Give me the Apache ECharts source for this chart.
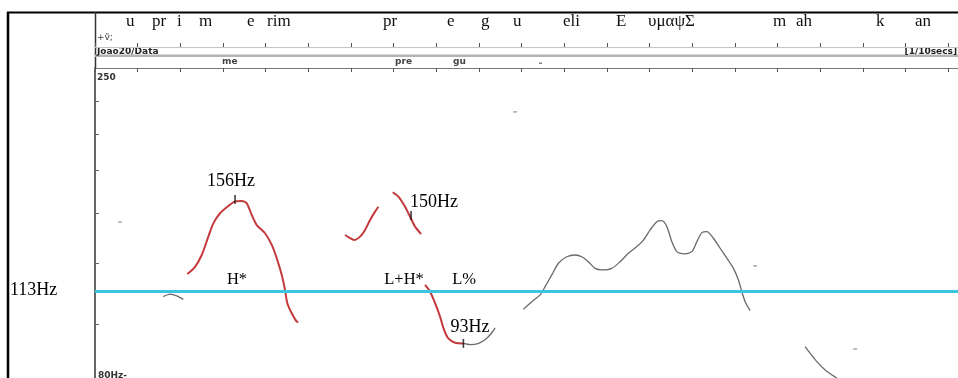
<!DOCTYPE html>
<html><head><meta charset="utf-8">
<script src="https://cdn.jsdelivr.net/npm/echarts@6/dist/echarts.min.js"></script>
<style>html,body{margin:0;padding:0;background:#fff}#c{width:958px;height:378px}</style>
</head><body><div id="c"></div>
<script>
// Time axis in 1/10 s, frequency axis in Hz (log)
const timeMax = 20.23;
const hzMin = 82.36, hzMax = 254.2;
const hzTicks = [100, 125, 150, 175, 200, 225];
const refHz = 113;

// Red (accented) pitch segments
const redRise1 = [[2.164,120.2],[2.345,123.4],[2.502,128.8],[2.657,137.7],[2.774,144.5],[2.931,149.9],[3.125,153.9],[3.283,156.5],[3.44,156.8],[3.557,155.4],[3.674,149.0],[3.791,143.6],[3.986,139.4],[4.143,133.6],[4.26,127.3],[4.378,119.8],[4.455,113.4],[4.509,108.1],[4.612,104.2],[4.729,101.1],[4.767,101.0]];
const redRise2 = [[5.862,138.5],[5.979,136.9],[6.073,136.0],[6.213,137.7],[6.331,141.1],[6.448,146.3],[6.565,150.8],[6.643,153.5]];
const redFall1 = [[6.98,161.8],[7.111,159.2],[7.268,153.5],[7.386,148.0],[7.503,142.8],[7.644,139.0]];
const redFall2 = [[7.737,115.5],[7.855,112.7],[7.972,108.1],[8.089,102.9],[8.183,98.1],[8.284,95.1],[8.441,93.6],[8.636,93.4]];

// Grey (unaccented) pitch segments
const greyA = [[1.601,110.7],[1.759,111.7],[1.916,111.0],[2.07,109.6]];
const greyB = [[8.636,93.4],[8.793,93.0],[8.957,93.2],[9.097,94.2],[9.215,95.6],[9.332,97.7],[9.379,98.8]];
const greyC = [[10.042,105.7],[10.239,108.7],[10.434,111.4],[10.551,114.8],[10.708,119.8],[10.863,125.0],[11.06,128.0],[11.254,128.8],[11.411,128.0],[11.566,125.7],[11.723,122.7],[11.881,122.0],[12.115,122.7],[12.31,125.7],[12.504,129.6],[12.701,132.8],[12.856,136.0],[13.013,141.1],[13.17,145.4],[13.287,145.9],[13.405,142.8],[13.522,135.2],[13.639,130.4],[13.794,129.3],[13.991,130.4],[14.108,135.2],[14.225,139.7],[14.343,140.2],[14.497,136.9],[14.654,132.0],[14.811,127.3],[14.966,122.7],[15.083,117.6],[15.163,112.7],[15.24,108.7],[15.358,105.2]];
const greyD = [[16.647,92.3],[16.764,90.1],[16.921,87.4],[17.116,84.8],[17.311,83.0],[17.515,81.2]];
const strayPoints = [[0.586,145.2],[9.848,216.7],[15.475,123.8],[17.819,91.5]];

// Measured points and annotations
const measureMarks = [[3.283,157.6],[7.409,148.7],[8.636,93.4]];
const annoTexts = ['156Hz','150Hz','93Hz','H*','L+H*','L%'];
const annoAt = [[3.189,168.6],[7.948,156.2],[8.793,99.1],[3.329,117.6],[7.245,117.6],[8.652,117.6]];
const annoSize = [18,18,18,16.5,16.5,16.5];

// Transcription tier words
const topWords = ['u','pr','i','m','e','rim','pr','e','g','u','eli','E','υμαψΣ','m','ah','k','an'];
const topWordLeft = [126,152,177,199,247,267,383,447,481,513,563,616,648,773,796,876,915];
const syllTier = ['me','pre','gu'];
const syllLeft = [222,395,453];

const RED = '#c43a3c', GREY = '#6a6a6a';
const SERIF = '"Liberation Serif", "DejaVu Serif", serif';
const SANS = '"DejaVu Sans", "Liberation Sans", sans-serif';

function lineSeries(data, color, width) {
  return {type:'line', data, showSymbol:false, smooth:0.25, silent:true,
    lineStyle:{color, width}, clip:true, z:3};
}

const series = [
  Object.assign(lineSeries(redRise1, RED, 2), {
    markLine:{silent:true, symbol:'none', label:{show:false},
      lineStyle:{color:'#3cc5df', width:2.8, type:'solid'},
      data:[{yAxis: refHz}]}, z:4}),
  Object.assign(lineSeries(redRise2, RED, 2), {z:4}),
  Object.assign(lineSeries(redFall1, RED, 2), {z:4}),
  Object.assign(lineSeries(redFall2, RED, 2), {z:4}),
  lineSeries(greyA, GREY, 1.3),
  lineSeries(greyB, GREY, 1.3),
  lineSeries(greyC, GREY, 1.3),
  lineSeries(greyD, GREY, 1.3),
  {type:'scatter', data:strayPoints, symbol:'rect', symbolSize:[4,1.4], silent:true,
    itemStyle:{color:'#8a8a8a'}},
  {type:'scatter', data:measureMarks, symbol:'rect', symbolSize:[1.6,9], silent:true,
    itemStyle:{color:'#111'}, z:6}
];

const graphic = [
  {type:'line', shape:{x1:7,y1:12.5,x2:958,y2:12.5}, style:{stroke:'#000', lineWidth:2}},
  {type:'line', shape:{x1:8,y1:12,x2:8,y2:378}, style:{stroke:'#000', lineWidth:2.5}},
  {type:'line', shape:{x1:95.5,y1:12,x2:95.5,y2:69}, style:{stroke:'#333', lineWidth:1.5}},
  {type:'rect', shape:{x:95,y:54.5,width:863,height:2.5}, style:{fill:'#b4b4b4'}},
  {type:'rect', shape:{x:539,y:62.5,width:3,height:1.4}, style:{fill:'#777'}},
  {type:'text', left:10, top:281, style:{text:'113Hz', font:'18px '+SERIF, fill:'#000'}},
  {type:'text', left:97, top:33, style:{text:'+ṽ;', font:'9px '+SANS, fill:'#444'}},
  {type:'text', left:97, top:47, style:{text:'Joao20/Data', font:'bold 9px '+SANS, fill:'#222'}},
  {type:'text', right:1, top:47, style:{text:'[1/10secs]', font:'bold 9px '+SANS, fill:'#222'}},
  {type:'text', left:97, top:73, style:{text:'250', font:'bold 9px '+SANS, fill:'#333'}},
  {type:'text', left:98, top:371, style:{text:'80Hz-', font:'bold 9px '+SANS, fill:'#333'}}
];
topWords.forEach((w,i)=>graphic.push({type:'text', left:topWordLeft[i], top:13,
  style:{text:w, font:'17px '+SERIF, fill:'#111'}}));
syllTier.forEach((w,i)=>graphic.push({type:'text', left:syllLeft[i], top:57,
  style:{text:w, font:'bold 9px '+SANS, fill:'#444'}}));

const xBase = {type:'value', min:0, max:timeMax, interval:1, position:'top',
  splitLine:{show:false}, axisLabel:{show:false}};

const option = {
  animation:false,
  backgroundColor:'#fff',
  grid:{left:95, right:0, top:68, bottom:0, containLabel:false},
  xAxis:[
    Object.assign({}, xBase, {axisLine:{lineStyle:{color:'#777', width:1}},
      axisTick:{inside:true, length:4, lineStyle:{color:'#555'}}}),
    Object.assign({}, xBase, {offset:21, axisLine:{lineStyle:{color:'#c4c4c4', width:1}},
      axisTick:{inside:false, length:4, lineStyle:{color:'#555'}}})
  ],
  yAxis:{type:'log', logBase:10, min:hzMin, max:hzMax,
    splitLine:{show:false}, axisLabel:{show:false},
    axisLine:{show:true, lineStyle:{color:'#333', width:1.5}},
    axisTick:{show:true, inside:true, length:4, customValues:hzTicks, lineStyle:{color:'#666'}}},
  series,
  graphic
};

const chart = echarts.init(document.getElementById('c'), null, {renderer:'canvas'});
chart.setOption(option);

// Annotations placed through the chart's own axes
const annoGraphics = annoAt.map((p,i)=>{
  const px = chart.convertToPixel({xAxisIndex:0, yAxisIndex:0}, p);
  return {type:'text', x:px[0], y:px[1], z:10,
    style:{text:annoTexts[i], font:annoSize[i]+'px '+SERIF, fill:'#000',
      textAlign:'center', textVerticalAlign:'middle'}};
});
chart.setOption({graphic: graphic.concat(annoGraphics)});
</script>
</body></html>
